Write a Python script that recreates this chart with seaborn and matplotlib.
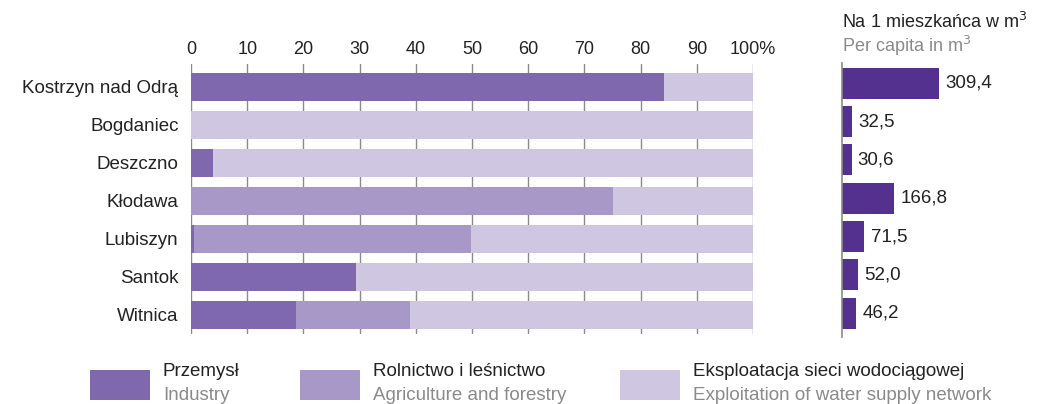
import matplotlib
matplotlib.use("Agg")
import matplotlib.pyplot as plt
import seaborn as sns
import numpy as np
import pandas as pd
from matplotlib.patches import Rectangle

gminy = ["Kostrzyn nad Odrą", "Bogdaniec", "Deszczno", "Kłodawa", "Lubiszyn", "Santok", "Witnica"]
przemysl = [84.2, 0.0, 3.9, 0.0, 0.5, 29.4, 18.7]
rolnictwo = [0.0, 0.0, 0.0, 75.1, 49.3, 0.0, 20.3]
eksploatacja = [15.8, 100.0, 96.1, 24.9, 50.2, 70.6, 61.0]
per_capita = [309.4, 32.5, 30.6, 166.8, 71.5, 52.0, 46.2]
per_capita_labels = ["309,4", "32,5", "30,6", "166,8", "71,5", "52,0", "46,2"]
x_ticks = [0, 10, 20, 30, 40, 50, 60, 70, 80, 90, 100]
x_tick_labels = ["0", "10", "20", "30", "40", "50", "60", "70", "80", "90", "100%"]

c_ind = "#7f68ad"
c_agr = "#a898c8"
c_exp = "#cfc7e2"
c_pc = "#54318f"

sns.set_theme(style="white")
plt.rcParams['font.family'] = ['Liberation Sans Narrow', 'Liberation Sans', 'DejaVu Sans']

df = pd.DataFrame({"gmina": gminy, "ind": przemysl, "agr": rolnictwo, "exp": eksploatacja, "pc": per_capita})
df["c1"] = df["ind"]
df["c2"] = df["ind"] + df["agr"]
df["c3"] = df["ind"] + df["agr"] + df["exp"]

W, H = 1037, 404
fig = plt.figure(figsize=(W / 100, H / 100), dpi=100)

def ax_at(x0, y0, x1, y1):
    return fig.add_axes([x0 / W, 1 - y1 / H, (x1 - x0) / W, (y1 - y0) / H])

ax = ax_at(191, 64, 753, 334)
ax.set_axisbelow(True)
for t in x_ticks:
    ax.axvline(t, color="#8a8a8a", lw=1.0, zorder=0)
kw = dict(saturation=1, orient="h", linewidth=0, edgecolor="none")
sns.barplot(data=df, y="gmina", x="c3", color=c_exp, ax=ax, zorder=2, width=0.72, **kw)
sns.barplot(data=df, y="gmina", x="c2", color=c_agr, ax=ax, zorder=3, width=0.72, **kw)
sns.barplot(data=df, y="gmina", x="c1", color=c_ind, ax=ax, zorder=4, width=0.72, **kw)
ax.set_xlim(0, 100)
ax.set_ylim(6.5, -0.6)
ax.set_xlabel("")
ax.set_ylabel("")
ax.xaxis.tick_top()
ax.set_xticks(x_ticks)
ax.set_xticklabels(x_tick_labels, fontsize=13, color="#222222")
ax.tick_params(axis="x", length=0, pad=4)
ax.tick_params(axis="y", length=0, pad=9, labelsize=13.5, labelcolor="#222222")
for s in ["top", "right", "bottom", "left"]:
    ax.spines[s].set_visible(False)

ax2 = ax_at(842, 63, 1030, 337)
sns.barplot(data=df, y="gmina", x="pc", color=c_pc, ax=ax2, width=0.81, **kw)
ax2.set_xlim(0, 600)
ax2.set_ylim(6.62, -0.53)
ax2.set_xlabel("")
ax2.set_ylabel("")
ax2.set_xticks([])
ax2.set_yticks([])
for s in ["top", "right", "bottom"]:
    ax2.spines[s].set_visible(False)
ax2.spines["left"].set_color("#8a8a8a")
ax2.spines["left"].set_linewidth(1.2)
for i, (v, lab) in enumerate(zip(per_capita, per_capita_labels)):
    ax2.annotate(lab, xy=(v, i), xytext=(4.5, 0), textcoords="offset points",
                 va="center", ha="left", fontsize=13.5, color="#222222")

fig.text(842 / W, 1 - 22 / H, "Na 1 mieszkańca w m$^3$", fontsize=13, color="#222222", va="center", ha="left")
fig.text(842 / W, 1 - 46 / H, "Per capita in m$^3$", fontsize=13, color="#8a8a8a", va="center", ha="left")

legend_items = [
    (90, c_ind, "Przemysł", "Industry"),
    (300, c_agr, "Rolnictwo i leśnictwo", "Agriculture and forestry"),
    (620, c_exp, "Eksploatacja sieci wodociągowej", "Exploitation of water supply network"),
]
for x0, col, pl, en in legend_items:
    fig.patches.append(Rectangle((x0 / W, 1 - 400 / H), 60 / W, 30 / H, transform=fig.transFigure,
                                 facecolor=col, edgecolor="none"))
    fig.text((x0 + 73) / W, 1 - 372 / H, pl, fontsize=13.5, color="#222222", va="center", ha="left")
    fig.text((x0 + 73) / W, 1 - 395 / H, en, fontsize=13.5, color="#8a8a8a", va="center", ha="left")

fig.savefig("out.png", dpi=100)
